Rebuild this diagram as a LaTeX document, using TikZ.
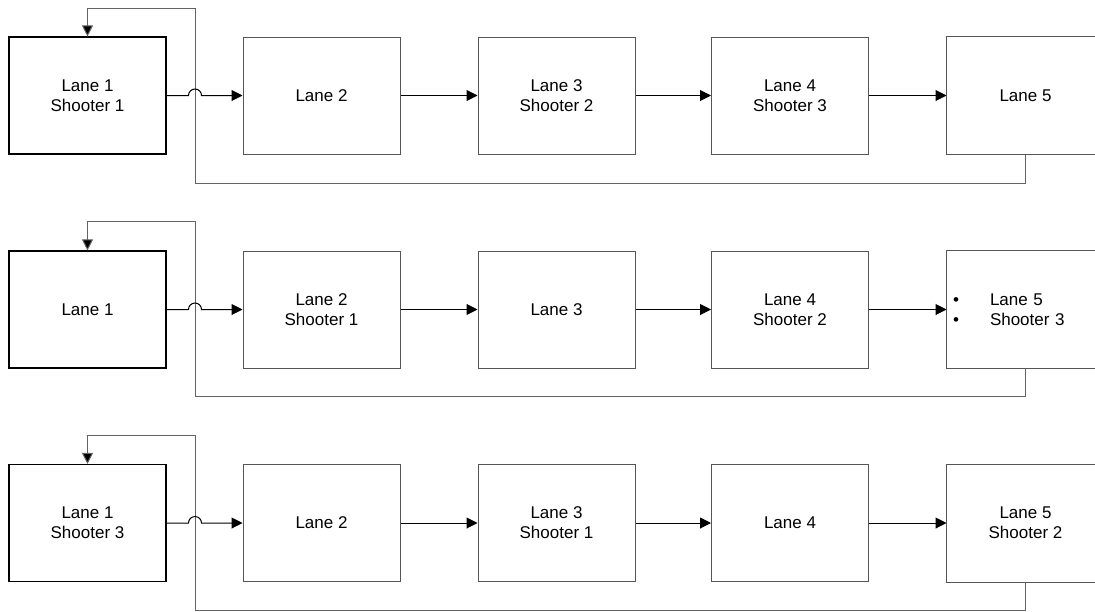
\documentclass[tikz,border=0pt]{standalone}
\usepackage{fontspec}
\setmainfont{Liberation Sans}
\usetikzlibrary{arrows.meta}
\definecolor{boxgray}{RGB}{85,85,85}
\definecolor{fbgray}{RGB}{100,100,100}
\tikzset{
  lanebox/.style={draw=boxgray, line width=1pt, minimum width=157pt, minimum height=117pt,
    inner sep=0pt, align=center, font=\fontsize{17}{20}\selectfont},
  lastbox/.style={lanebox, draw=none},
  lastedge/.style={draw=boxgray, line width=1pt},
  firstbox/.style={lanebox, draw=black, line width=1.1pt},
  flow/.style={draw=black, line width=1pt, -{Triangle[length=11pt,width=11pt]}},
  fb/.style={draw=fbgray, line width=1pt},
  fbarrow/.style={fb, -{Triangle[length=11pt,width=11pt,fill=black]}}
}
\begin{document}
\begin{tikzpicture}[x=1pt,y=-1pt]
\fill[white] (0,0) rectangle (1095,611);
\begin{pgfinterruptboundingbox}
% Row 1
\node[firstbox] (a1) at (87.5,95.5) {Lane 1\\Shooter 1};
\node[lanebox] (a2) at (321.5,95.5) {Lane 2};
\node[lanebox] (a3) at (556.5,95.5) {Lane 3\\Shooter 2};
\node[lanebox] (a4) at (790,95.5) {Lane 4\\Shooter 3};
\node[lastbox] (a5) at (1025.5,95.5) {Lane 5};
\draw[lastedge] (a5.north east) -- (a5.north west) -- (a5.south west) -- (a5.south east);
\coordinate (ahop) at (195,95.5);
\coordinate (alo) at (195,183);
\coordinate (ahi) at (195,8);
\draw[fb] (a5.south) |- (alo) -- (ahi);
\draw[fbarrow] (ahi) -| (a1.north);
\draw[flow] (a1.east) -- ([xshift=-6.5pt]ahop) arc[start angle=180,end angle=0,radius=6.5pt] -- (a2.west);
\draw[flow] (a2) -- (a3);
\draw[flow] (a3) -- (a4);
\draw[flow] (a4) -- (a5);
% Row 2
\node[firstbox] (b1) at (87.5,309.5) {Lane 1};
\node[lanebox] (b2) at (321.5,309.5) {Lane 2\\Shooter 1};
\node[lanebox] (b3) at (556.5,309.5) {Lane 3};
\node[lanebox] (b4) at (790,309.5) {Lane 4\\Shooter 2};
\node[lastbox, text width=145pt, inner xsep=6pt, align=left] (b5) at (1025.5,309.5)
  {\makebox[37pt][l]{•}Lane 5\\\makebox[37pt][l]{•}Shooter 3};
\draw[lastedge] (b5.north east) -- (b5.north west) -- (b5.south west) -- (b5.south east);
\coordinate (bhop) at (195,309.5);
\coordinate (blo) at (195,396);
\coordinate (bhi) at (195,221);
\draw[fb] (b5.south) |- (blo) -- (bhi);
\draw[fbarrow] (bhi) -| (b1.north);
\draw[flow] (b1.east) -- ([xshift=-6.5pt]bhop) arc[start angle=180,end angle=0,radius=6.5pt] -- (b2.west);
\draw[flow] (b2) -- (b3);
\draw[flow] (b3) -- (b4);
\draw[flow] (b4) -- (b5);
% Row 3
\node[firstbox] (c1) at (87.5,523) {Lane 1\\Shooter 3};
\node[lanebox] (c2) at (321.5,523) {Lane 2};
\node[lanebox] (c3) at (556.5,523) {Lane 3\\Shooter 1};
\node[lanebox] (c4) at (790,523) {Lane 4};
\node[lastbox] (c5) at (1025.5,523) {Lane 5\\Shooter 2};
\draw[lastedge] (c5.north east) -- (c5.north west) -- (c5.south west) -- (c5.south east);
\coordinate (chop) at (195,523);
\coordinate (clo) at (195,610);
\coordinate (chi) at (195,435);
\draw[fb] (c5.south) |- (clo) -- (chi);
\draw[fbarrow] (chi) -| (c1.north);
\draw[flow] (c1.east) -- ([xshift=-6.5pt]chop) arc[start angle=180,end angle=0,radius=6.5pt] -- (c2.west);
\draw[flow] (c2) -- (c3);
\draw[flow] (c3) -- (c4);
\draw[flow] (c4) -- (c5);
\end{pgfinterruptboundingbox}
\end{tikzpicture}
\end{document}
